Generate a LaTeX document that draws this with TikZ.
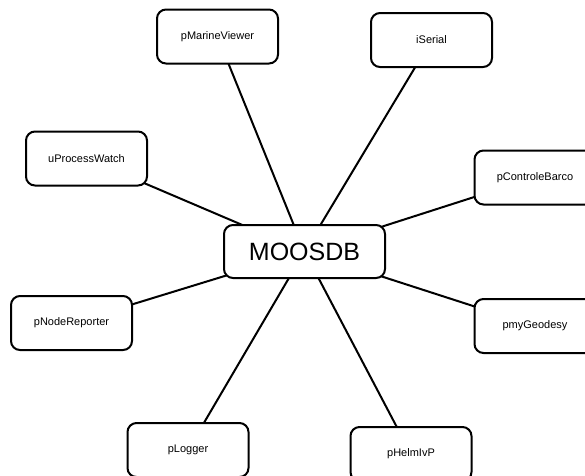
\documentclass[tikz,border=0pt]{standalone}
\usepackage{fontspec}
\setmainfont{Liberation Sans}
\usetikzlibrary{backgrounds}
\begin{document}
\begin{tikzpicture}[x=1pt,y=-1pt,
  proc/.style={draw, line width=2pt, rounded corners=9pt, fill=white,
    minimum width=121pt, minimum height=54pt, inner sep=0pt,
    font=\fontsize{11}{13}\selectfont},
  hub/.style={proc, minimum width=161pt, minimum height=53pt,
    font=\fontsize{25}{28}\selectfont},
  link/.style={line width=2pt}]
\useasboundingbox (0,0) rectangle (585,475);
\clip (0,0) rectangle (585,475);
\node[hub]  (db)  at (304.5,251.5) {MOOSDB};
\node[proc] (mv)  at (217.5,36.5)  {pMarineViewer};
\node[proc] (ser) at (431.5,40)    {iSerial};
\node[proc] (pw)  at (86.5,158.5)  {uProcessWatch};
\node[proc] (cb)  at (535,177.5)   {pControleBarco};
\node[proc] (nr)  at (71.5,323)    {pNodeReporter};
\node[proc] (geo) at (535,326)     {pmyGeodesy};
\node[proc] (log) at (188,450)     {pLogger};
\node[proc] (hlm) at (411,454)     {pHelmIvP};
\begin{pgfonlayer}{background}
  \foreach \n in {mv,ser,pw,cb,nr,geo,log,hlm}
    \draw[link] (db.center) -- (\n.center);
\end{pgfonlayer}
\end{tikzpicture}
\end{document}
